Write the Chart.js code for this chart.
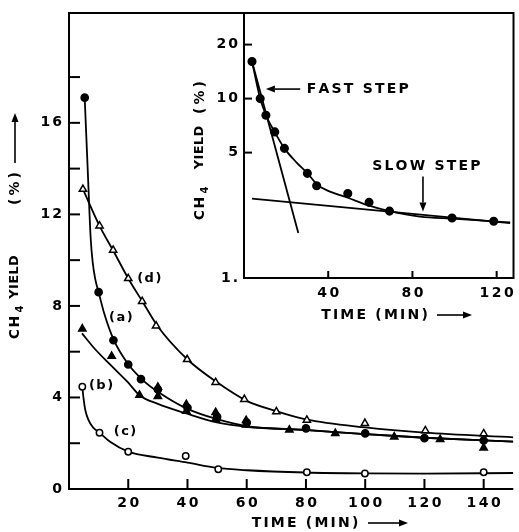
<!DOCTYPE html>
<html>
<head>
<meta charset="utf-8">
<script src="https://cdn.jsdelivr.net/npm/chart.js@4.4.0/dist/chart.umd.min.js"></script>
<style>
  html, body { margin: 0; padding: 0; background: #fff; }
  #wrap { position: relative; width: 519px; height: 532px; }
  #main { position: absolute; left: 0; top: 0; }
  #inset { position: absolute; left: 180px; top: 0; }
</style>
</head>
<body>
<div id="wrap">
  <canvas id="main" width="519" height="532"></canvas>
  <canvas id="inset" width="339" height="330"></canvas>
</div>
<script>
// ---- main plot: measured points, time (min) vs CH4 yield (%)
const timeA = [5.3, 10, 15, 20, 24.3, 30, 40, 50, 60, 80, 100, 120, 140];
const yieldA = [17.1, 8.6, 6.5, 5.44, 4.8, 4.35, 3.55, 3.15, 2.9, 2.65, 2.43, 2.22, 2.12];
const timeB = [4.5, 14.4, 23.8, 30, 30, 39.6, 39.6, 49.5, 49.5, 59.8, 59.8, 74.4, 89.9, 109.8, 125.3, 140];
const yieldB = [7.0, 5.8, 4.1, 4.45, 4.05, 3.7, 3.4, 3.35, 3.05, 3.0, 2.8, 2.58, 2.43, 2.28, 2.17, 1.8];
const timeC = [4.5, 10.3, 20, 39.4, 50.4, 80.3, 99.9, 140];
const yieldC = [4.47, 2.46, 1.63, 1.44, 0.86, 0.73, 0.68, 0.73];
const timeD = [4.7, 10.3, 14.9, 20, 24.7, 29.4, 39.9, 49.5, 59.2, 70, 80.3, 99.9, 120.3, 140];
const yieldD = [13.1, 11.5, 10.44, 9.2, 8.2, 7.13, 5.66, 4.66, 3.92, 3.38, 3.01, 2.87, 2.55, 2.42];

// fitted curves as drawn in the figure
const fitTimeA = [5.3, 6.5, 7.3, 8.0, 8.9, 9.9, 11.9, 15, 20, 25, 30, 40, 50, 60, 80, 100, 120, 150];
const fitYieldA = [17.1, 13.4, 11.0, 9.9, 9.15, 8.65, 7.67, 6.55, 5.45, 4.75, 4.25, 3.5, 3.05, 2.75, 2.58, 2.4, 2.24, 2.07];
const fitTimeB = [4.4, 8.6, 14.1, 19.7, 23.8, 30, 39.6, 49.5, 59.8, 80, 100, 120, 150];
const fitYieldB = [6.8, 6.14, 5.41, 4.69, 4.1, 3.72, 3.3, 2.92, 2.72, 2.57, 2.4, 2.24, 2.07];
const fitTimeC = [4.5, 4.85, 5.5, 6.6, 8.1, 10.3, 14, 20, 30, 40, 50, 60, 80, 100, 120, 150];
const fitYieldC = [4.45, 4.03, 3.45, 3.01, 2.69, 2.46, 2.05, 1.63, 1.37, 1.15, 0.92, 0.82, 0.72, 0.68, 0.67, 0.7];
const fitTimeD = [4.7, 10.3, 15, 20, 25, 30, 40, 50, 60, 70, 80, 100, 120, 150];
const fitYieldD = [13.1, 11.5, 10.4, 9.2, 8.15, 7.1, 5.66, 4.66, 3.85, 3.4, 3.04, 2.69, 2.46, 2.26];

const mainXTicks = [20, 40, 60, 80, 100, 120, 140];
const mainYTicks = [0, 2, 4, 6, 8, 10, 12, 14, 16, 18];
const mainYLabels = [0, 4, 8, 12, 16];

// ---- inset: semi-log plot of series (a)
const insetTime = [3.8, 7.7, 10.4, 14.6, 19.2, 30.1, 34.5, 49.3, 59.4, 69.1, 98.8, 118.6];
const insetYield = [16.1, 10, 8.08, 6.52, 5.28, 3.83, 3.27, 2.96, 2.64, 2.36, 2.16, 2.07];
const insetFitTime = [3.8, 7.7, 10.4, 14.6, 19.2, 25, 30, 35, 40, 49.3, 59.4, 69.1, 83.6, 98.8, 118.6, 126.4];
const insetFitYield = [16.1, 10, 8.1, 6.5, 5.28, 4.4, 3.85, 3.3, 3.06, 2.8, 2.53, 2.36, 2.2, 2.14, 2.07, 2.04];
const fastTime = [3.8, 25.8];
const fastYield = [16.1, 1.78];
const slowTime = [3.8, 126.4];
const slowYield = [2.77, 2.02];

const insetXTicks = [40, 80, 120];
const insetYTicks = [1, 5, 10, 20];
const insetYLabels = ["1.", "5", "10", "20"];

const FONT = '"DejaVu Sans", sans-serif';

function pts(t, v) {
  return t.map((x, i) => ({ x: x, y: v[i] }));
}

// text with extra letter spacing, like the lettering on the figure
function spaced(ctx, text, x, y, sp, align) {
  const chars = Array.from(text);
  const ws = chars.map(c => ctx.measureText(c).width);
  const total = ws.reduce((s, w) => s + w, 0) + sp * (chars.length - 1);
  let cx = align === "center" ? x - total / 2 : align === "right" ? x - total : x;
  ctx.textAlign = "left";
  chars.forEach((c, i) => {
    ctx.fillText(c, cx, y);
    cx += ws[i] + sp;
  });
}

function rotText(ctx, text, cx, cy, sp, font) {
  ctx.save();
  ctx.translate(cx, cy);
  ctx.rotate(-Math.PI / 2);
  ctx.font = font;
  spaced(ctx, text, 0, 0, sp, "center");
  ctx.restore();
}

function arrow(ctx, x1, y1, x2, y2) {
  const ang = Math.atan2(y2 - y1, x2 - x1);
  const hl = 9, hw = 3.5;
  ctx.beginPath();
  ctx.moveTo(x1, y1);
  ctx.lineTo(x2 - hl * Math.cos(ang), y2 - hl * Math.sin(ang));
  ctx.stroke();
  ctx.beginPath();
  ctx.moveTo(x2, y2);
  ctx.lineTo(x2 - hl * Math.cos(ang) - hw * Math.sin(ang), y2 - hl * Math.sin(ang) + hw * Math.cos(ang));
  ctx.lineTo(x2 - hl * Math.cos(ang) + hw * Math.sin(ang), y2 - hl * Math.sin(ang) - hw * Math.cos(ang));
  ctx.closePath();
  ctx.fill();
}

function curve(t, v) {
  return {
    data: pts(t, v), showLine: true, pointRadius: 0, borderColor: "#000",
    borderWidth: 1.8, cubicInterpolationMode: "monotone", order: 1
  };
}

function marks(t, v, style, filled, r) {
  return {
    data: pts(t, v), showLine: false, pointStyle: style, pointRadius: r,
    pointBackgroundColor: filled ? "#000" : "#fff", pointBorderColor: "#000",
    pointBorderWidth: 1.5, order: 0
  };
}

// "CH4 YIELD (%)" read bottom to top, each piece centred at the given y
function yTitle(ctx, cx, yCH, yYield, yPct) {
  rotText(ctx, "CH", cx, yCH, 1.5, "bold 14px " + FONT);
  rotText(ctx, "4", cx + 5, yCH - 18.5, 0, "bold 10px " + FONT);
  rotText(ctx, "YIELD", cx, yYield, 0.3, "bold 13px " + FONT);
  rotText(ctx, "(%)", cx, yPct, 3, "bold 14px " + FONT);
}

const mainAxes = {
  id: "mainAxes",
  afterDraw(chart) {
    const { ctx, chartArea: a, scales: { x, y } } = chart;
    ctx.save();
    ctx.strokeStyle = "#000";
    ctx.fillStyle = "#000";
    ctx.lineWidth = 2;
    ctx.beginPath();
    ctx.moveTo(a.right, a.top);
    ctx.lineTo(a.left, a.top);
    ctx.lineTo(a.left, a.bottom);
    ctx.lineTo(a.right, a.bottom);
    ctx.stroke();

    mainYTicks.forEach(v => {
      const py = y.getPixelForValue(v);
      ctx.beginPath(); ctx.moveTo(a.left, py); ctx.lineTo(a.left + 11, py); ctx.stroke();
    });
    mainXTicks.forEach(v => {
      const px = x.getPixelForValue(v);
      ctx.beginPath(); ctx.moveTo(px, a.bottom); ctx.lineTo(px, a.bottom - 10); ctx.stroke();
    });

    ctx.font = "bold 14px " + FONT;
    ctx.textBaseline = "middle";
    mainYLabels.forEach(v => spaced(ctx, String(v), a.left - 7, y.getPixelForValue(v), 2, "right"));
    mainXTicks.forEach(v => spaced(ctx, String(v), x.getPixelForValue(v), a.bottom + 14, 2.5, "center"));

    // axis titles
    spaced(ctx, "TIME (MIN)", 305, 523, 2.2, "center");
    ctx.lineWidth = 1.6;
    arrow(ctx, 368, 523, 408, 523);

    yTitle(ctx, 15, 327.5, 277, 188.5);
    arrow(ctx, 15, 163, 15, 113);

    // series tags
    ctx.font = "bold 13px " + FONT;
    const tags = [["(d)", 27.1, 9.2], ["(a)", 17.5, 7.5], ["(b)", 10.8, 4.5], ["(c)", 18.9, 2.5]];
    tags.forEach(([s, t, v]) => spaced(ctx, s, x.getPixelForValue(t), y.getPixelForValue(v), 1.5, "center"));
    ctx.restore();
  }
};

new Chart(document.getElementById("main"), {
  type: "scatter",
  data: {
    datasets: [
      marks(timeB, yieldB, "triangle", true, 4.2),
      marks(timeA, yieldA, "circle", true, 3.6),
      marks(timeD, yieldD, "triangle", false, 4.2),
      marks(timeC, yieldC, "circle", false, 3.2),
      curve(fitTimeA, fitYieldA),
      curve(fitTimeB, fitYieldB),
      curve(fitTimeC, fitYieldC),
      curve(fitTimeD, fitYieldD)
    ]
  },
  options: {
    responsive: false,
    animation: false,
    layout: { padding: { left: 69, top: 13, right: 0, bottom: 43 } },
    plugins: { legend: { display: false }, tooltip: { enabled: false } },
    scales: {
      x: { type: "linear", min: 0, max: 150, display: false },
      y: { type: "linear", min: 0, max: 20.8, display: false }
    }
  },
  plugins: [mainAxes]
});

const insetAxes = {
  id: "insetAxes",
  afterDraw(chart) {
    const { ctx, chartArea: a, scales: { x, y } } = chart;
    ctx.save();
    ctx.strokeStyle = "#000";
    ctx.fillStyle = "#000";
    ctx.lineWidth = 2;
    ctx.strokeRect(a.left, a.top, a.right - a.left, a.bottom - a.top);

    insetYTicks.forEach(v => {
      const py = y.getPixelForValue(v);
      ctx.beginPath(); ctx.moveTo(a.left, py); ctx.lineTo(a.left + 8, py); ctx.stroke();
    });
    insetXTicks.forEach(v => {
      const px = x.getPixelForValue(v);
      ctx.beginPath(); ctx.moveTo(px, a.bottom); ctx.lineTo(px, a.bottom - 7); ctx.stroke();
    });

    ctx.font = "bold 14px " + FONT;
    ctx.textBaseline = "middle";
    insetYTicks.forEach((v, i) => spaced(ctx, insetYLabels[i], a.left - 6, y.getPixelForValue(v), 2, "right"));
    insetXTicks.forEach(v => spaced(ctx, String(v), x.getPixelForValue(v), a.bottom + 15, 2.5, "center"));

    spaced(ctx, "TIME (MIN)", 194.5, 315, 2.2, "center");
    ctx.lineWidth = 1.6;
    arrow(ctx, 257, 315, 292, 315);

    yTitle(ctx, 20, 208.5, 147.5, 97.5);

    // step annotations
    ctx.font = "bold 14px " + FONT;
    const fy = y.getPixelForValue(11.3);
    arrow(ctx, x.getPixelForValue(26.7), fy, x.getPixelForValue(10.4), fy);
    spaced(ctx, "FAST STEP", x.getPixelForValue(29.8), fy, 2.2, "left");
    spaced(ctx, "SLOW STEP", x.getPixelForValue(86.6), y.getPixelForValue(4.2), 2.2, "center");
    const sx = x.getPixelForValue(85);
    arrow(ctx, sx, y.getPixelForValue(3.68), sx, y.getPixelForValue(2.35));
    ctx.restore();
  }
};

new Chart(document.getElementById("inset"), {
  type: "scatter",
  data: {
    datasets: [
      marks(insetTime, insetYield, "circle", true, 3.8),
      curve(insetFitTime, insetFitYield),
      Object.assign(curve(fastTime, fastYield), { cubicInterpolationMode: "default", tension: 0 }),
      Object.assign(curve(slowTime, slowYield), { cubicInterpolationMode: "default", tension: 0 })
    ]
  },
  options: {
    responsive: false,
    animation: false,
    layout: { padding: { left: 64, top: 13, right: 1, bottom: 52 } },
    plugins: { legend: { display: false }, tooltip: { enabled: false } },
    scales: {
      x: { type: "linear", min: 0, max: 128, display: false },
      y: { type: "logarithmic", min: 1, max: 30, display: false }
    }
  },
  plugins: [insetAxes]
});
</script>
</body>
</html>
